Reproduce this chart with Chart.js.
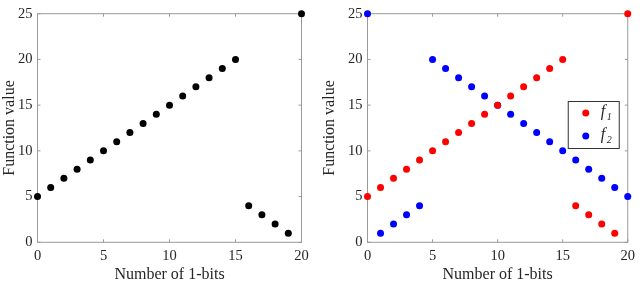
<!DOCTYPE html>
<html>
<head>
<meta charset="utf-8">
<script src="https://cdn.jsdelivr.net/npm/chart.js@4.4.0/dist/chart.umd.min.js"></script>
<style>
  html, body { margin: 0; background: #fff; overflow: hidden; }
  #wrap { position: relative; width: 640px; height: 281px; overflow: hidden; }
  .box { position: absolute; top: 0; width: 320px; height: 290px; }
</style>
</head>
<body>
<div id="wrap">
  <div class="box" style="left:0"><canvas id="left"></canvas></div>
  <div class="box" style="left:320px"><canvas id="right"></canvas></div>
</div>
<script>
// dati
var bits = [0,1,2,3,4,5,6,7,8,9,10,11,12,13,14,15,16,17,18,19,20];
var f1 = [5,6,7,8,9,10,11,12,13,14,15,16,17,18,19,20,4,3,2,1,25];
var f2 = [25,1,2,3,4,20,19,18,17,16,15,14,13,12,11,10,9,8,7,6,5];
var xTicks = [0,5,10,15,20];
var yTicks = [0,5,10,15,20,25];
var legendNames = ["1", "2"]; // pedici di f

var axisCol = '#9a9a9a';
var textCol = '#262626';
var serif = '"Liberation Serif", "Times New Roman", serif';

function pts(ys){
  return bits.map(function(b, i){ return {x: b, y: ys[i]}; });
}

// bordo a scatola e tacche verso l'interno, stile matlab
var boxPlugin = {
  id: 'box',
  beforeDatasetsDraw: function(chart){
    var ctx = chart.ctx, a = chart.chartArea;
    var sx = chart.scales.x, sy = chart.scales.y;
    ctx.save();
    ctx.strokeStyle = axisCol;
    ctx.lineWidth = 1;
    ctx.strokeRect(a.left, a.top, a.right - a.left, a.bottom - a.top);
    ctx.beginPath();
    xTicks.forEach(function(t){
      var px = sx.getPixelForValue(t);
      ctx.moveTo(px, a.bottom); ctx.lineTo(px, a.bottom - 3);
      ctx.moveTo(px, a.top); ctx.lineTo(px, a.top + 3);
    });
    yTicks.forEach(function(t){
      var py = sy.getPixelForValue(t);
      ctx.moveTo(a.left, py); ctx.lineTo(a.left + 3, py);
      ctx.moveTo(a.right, py); ctx.lineTo(a.right - 3, py);
    });
    ctx.stroke();
    ctx.restore();
  }
};

// legenda dentro il grafico
var legendPlugin = {
  id: 'legendBox',
  afterDraw: function(chart){
    var opts = chart.options.plugins.legendBox;
    if (!opts || !opts.show) return;
    var ctx = chart.ctx, a = chart.chartArea;
    var x0 = a.right - 60, y0 = 101, w = 51, h = 47;
    ctx.save();
    ctx.fillStyle = '#fff';
    ctx.fillRect(x0, y0, w, h);
    ctx.strokeStyle = '#333';
    ctx.lineWidth = 1;
    ctx.strokeRect(x0 + 0.5, y0 + 0.5, w, h);
    chart.data.datasets.forEach(function(ds, i){
      var cy = y0 + 12 + i * 23;
      ctx.fillStyle = ds.backgroundColor;
      ctx.beginPath();
      ctx.arc(x0 + 18, cy, 3.5, 0, Math.PI * 2);
      ctx.fill();
      ctx.fillStyle = textCol;
      ctx.textBaseline = 'middle';
      ctx.font = 'italic 16px ' + serif;
      ctx.fillText('f', x0 + 33, cy - 1);
      ctx.font = 'italic 10px ' + serif;
      ctx.fillText(legendNames[i], x0 + 39, cy + 4);
    });
    ctx.restore();
  }
};

function makeChart(id, datasets, padRight, yWidth, showLegend){
  return new Chart(document.getElementById(id), {
    type: 'scatter',
    data: { datasets: datasets },
    options: {
      responsive: true,
      maintainAspectRatio: false,
      animation: false,
      layout: { padding: { top: 6.5, right: padRight, left: 0, bottom: 0 } },
      plugins: { legend: { display: false }, tooltip: { enabled: false },
                 legendBox: { show: showLegend } },
      scales: {
        x: {
          type: 'linear', min: 0, max: 20,
          afterBuildTicks: function(s){ s.ticks = xTicks.map(function(v){ return {value: v}; }); },
          afterFit: function(s){ s.height = 47.7; },
          grid: { display: false, drawTicks: false },
          border: { display: false },
          ticks: { padding: 5, color: textCol, font: { family: serif, size: 14.5 }, maxRotation: 0 },
          title: { display: true, text: 'Number of 1-bits', color: textCol,
                   font: { family: serif, size: 16 }, padding: { top: 0, bottom: 5.5 } }
        },
        y: {
          type: 'linear', min: 0, max: 25,
          afterBuildTicks: function(s){ s.ticks = yTicks.map(function(v){ return {value: v}; }); },
          afterFit: function(s){ s.width = yWidth; },
          grid: { display: false, drawTicks: false },
          border: { display: false },
          ticks: { padding: 5, color: textCol, font: { family: serif, size: 14.5 } },
          title: { display: true, text: 'Function value', color: textCol,
                   font: { family: serif, size: 16 }, padding: { top: 0, bottom: 0 } }
        }
      }
    },
    plugins: [boxPlugin, legendPlugin]
  });
}

makeChart('left', [
  { label: 'f', data: pts(f1), backgroundColor: '#000', borderColor: '#000',
    pointRadius: 3.5, pointBorderWidth: 0, clip: false }
], 18.5, 37.5, false);

makeChart('right', [
  { label: 'f1', data: pts(f1), backgroundColor: '#ff0000', borderColor: '#ff0000',
    pointRadius: 3.5, pointBorderWidth: 0, clip: false },
  { label: 'f2', data: pts(f2), backgroundColor: '#0000ff', borderColor: '#0000ff',
    pointRadius: 3.5, pointBorderWidth: 0, clip: false }
], 8.5, 47.5, true);
</script>
</body>
</html>
